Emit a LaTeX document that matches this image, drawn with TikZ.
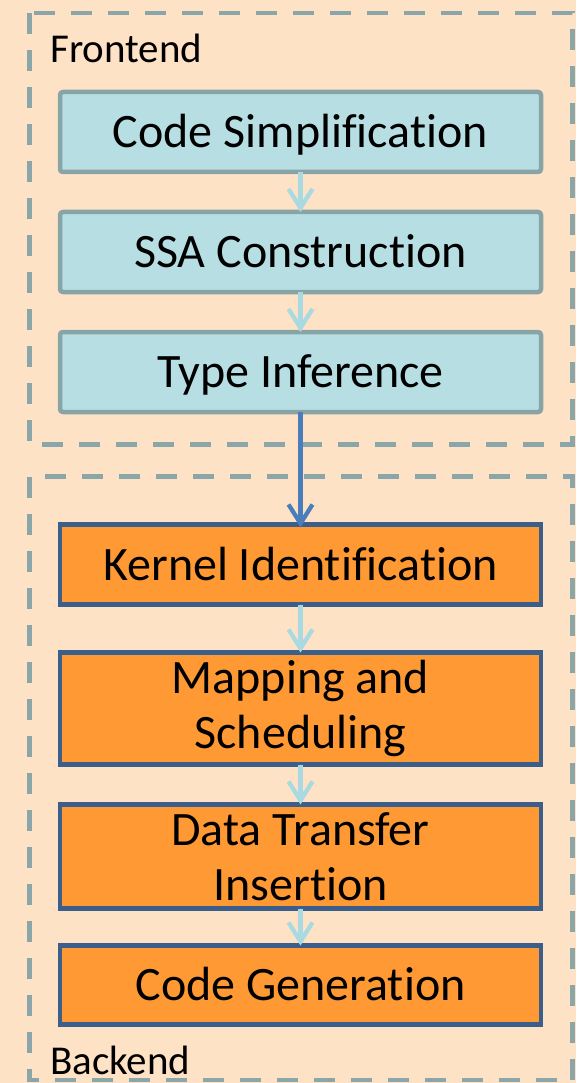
\documentclass[tikz,border=0pt]{standalone}
\usepackage{fontspec}
\setmainfont{Carlito}[Ligatures={NoCommon}]
\usetikzlibrary{arrows.meta}

\definecolor{pagebg}{HTML}{FEE2C6}
\definecolor{groupline}{HTML}{8AA6A9}
\definecolor{frontfill}{HTML}{B7DFE3}
\definecolor{frontline}{HTML}{88A4A7}
\definecolor{lightarrow}{HTML}{A9D9E1}
\definecolor{backfill}{HTML}{FF9933}
\definecolor{backline}{HTML}{3B5E8B}
\definecolor{mainarrow}{HTML}{4A7EBB}

\tikzset{
  group/.style={draw=groupline, line width=4.5pt, dash pattern=on 21pt off 16pt},
  grouplabel/.style={anchor=base west, inner sep=0pt, font=\fontsize{41}{49}\selectfont},
  passbox/.style={minimum width=481pt, inner sep=0pt, outer sep=0pt, align=center,
    line width=4.5pt, font=\fontsize{48}{55}\selectfont},
  frontbox/.style={passbox, draw=frontline, fill=frontfill, rounded corners=3pt},
  backbox/.style={passbox, draw=backline, fill=backfill},
  oneline/.style={text height=31pt, text depth=0pt},
  flow/.style={draw=lightarrow, line width=4.3pt, -{Straight Barb[length=19pt,width=24pt]}},
  handoff/.style={draw=mainarrow, line width=4.3pt, -{Straight Barb[length=19pt,width=24pt]}}
}

\begin{document}
\begin{tikzpicture}[x=1pt, y=-1pt]
  % page
  \fill[pagebg] (0,0) rectangle (576,1083);
  \useasboundingbox (0,0) rectangle (576,1083);

  % pass groups
  \draw[group] (29.5,13) rectangle (572.5,444.5);
  \draw[group] (29.5,476.5) rectangle (572.5,1080);
  \node[grouplabel] (frontlabel) at (50,63) {Frontend};
  \node[grouplabel] (backlabel) at (50,1074) {Backend};

  % frontend passes
  \node[frontbox, oneline, minimum height=80pt] (simp) at (300.5,132) {Code Simplification};
  \node[frontbox, oneline, minimum height=80pt] (ssa)  at (300.5,252) {SSA Construction};
  \node[frontbox, oneline, minimum height=80pt] (type) at (300.5,372) {Type Inference};

  % backend passes
  \node[backbox, oneline, minimum height=80pt]  (kern) at (300.5,564.5) {Kernel Identification};
  \node[backbox, minimum height=112pt] (map)  at (300.5,708.5) {Mapping and\\Scheduling};
  \node[backbox, minimum height=104pt] (xfer) at (300.5,856.5) {Data Transfer\\Insertion};
  \node[backbox, oneline, minimum height=79pt]  (gen)  at (300.5,985) {Code Generation};

  % connectors
  \draw[flow] (simp.south) -- (ssa.north);
  \draw[flow] (ssa.south) -- (type.north);
  \draw[handoff] (type.south) -- ([yshift=-3pt]kern.north);
  \draw[flow] (kern.south) -- (map.north);
  \draw[flow] (map.south) -- (xfer.north);
  \draw[flow] (xfer.south) -- (gen.north);
\end{tikzpicture}
\end{document}
